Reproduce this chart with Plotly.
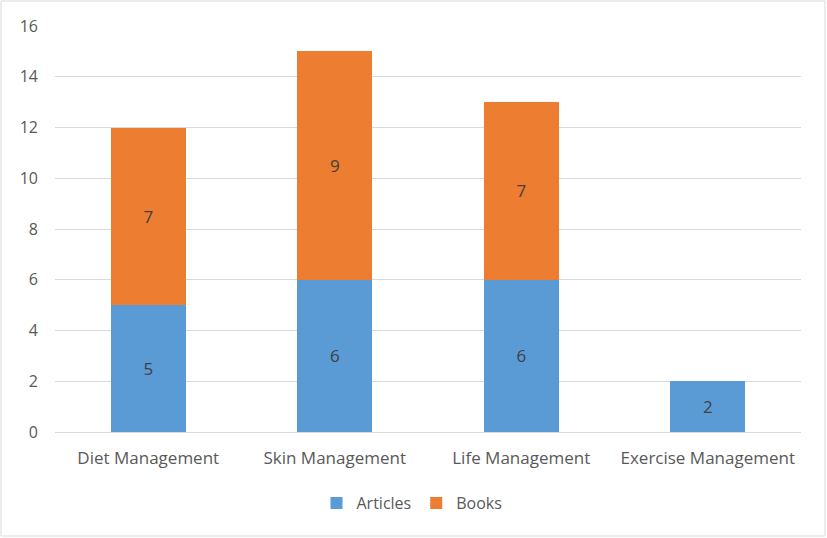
import plotly.graph_objects as go

categories = ["Diet Management", "Skin Management", "Life Management", "Exercise Management"]
articles = [5, 6, 6, 2]
books = [7, 9, 7, None]
y_ticks = [0, 2, 4, 6, 8, 10, 12, 14, 16]

FONT = "Open Sans"
TXT = "#595959"
FS = 17

fig = go.Figure()
fig.add_trace(go.Bar(name="Articles", x=categories, y=articles, marker_color="#5B9BD5",
                     marker_line_width=0, text=articles, textposition="inside",
                     insidetextanchor="middle", textfont=dict(color="#404040", size=FS, family=FONT)))
fig.add_trace(go.Bar(name="Books", x=categories, y=books, marker_color="#ED7D31",
                     marker_line_width=0, text=books, textposition="inside",
                     insidetextanchor="middle", textfont=dict(color="#404040", size=FS, family=FONT)))

L, R, T, B = 55, 26, 26, 106
W, H = 827, 538
pw, ph = W - L - R, H - T - B

fig.update_layout(
    barmode="stack", bargap=0.6, width=W, height=H,
    margin=dict(l=L, r=R, t=T, b=B, pad=0),
    paper_bgcolor="white", plot_bgcolor="white",
    font=dict(family=FONT, color=TXT, size=FS),
    legend=dict(orientation="h", x=(412 - L) / pw, y=(T + ph - 503) / ph,
                xanchor="center", yanchor="middle", font=dict(size=16, color=TXT),
                itemwidth=30, traceorder="normal", tracegroupgap=0),
    uniformtext=dict(mode=False),
    shapes=[dict(type="rect", xref="paper", yref="paper",
                 x0=(1 - L) / pw, x1=(825 - L) / pw,
                 y0=(T + ph - 536) / ph, y1=(T + ph - 1) / ph,
                 line=dict(color="#D9D9D9", width=1), fillcolor="rgba(0,0,0,0)", layer="below")],
)
fig.update_yaxes(range=[0, 16], tickvals=y_ticks, showgrid=True, gridcolor="#D9D9D9",
                 gridwidth=1, zeroline=False, showline=False, ticklabelstandoff=16,
                 tickfont=dict(size=16, color=TXT))
fig.update_xaxes(showline=True, linecolor="#D9D9D9", linewidth=1, ticks="",
                 ticklabelstandoff=11, tickfont=dict(size=FS, color=TXT))

fig.write_html("out.html", config={"displayModeBar": False},
               post_script="document.body.style.margin='0';document.body.style.padding='0';")
